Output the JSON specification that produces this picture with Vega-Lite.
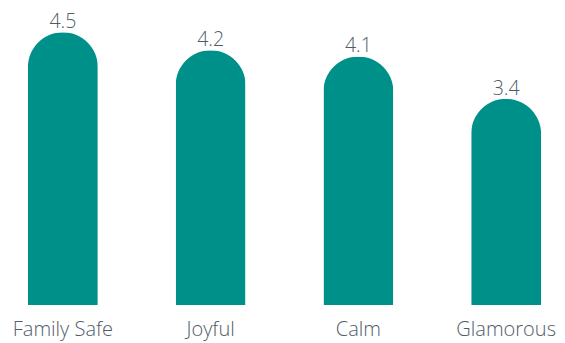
{
  "$schema": "https://vega.github.io/schema/vega-lite/v6.json",
  "width": 569,
  "height": 305,
  "autosize": {"type": "none"},
  "padding": {"top": 0, "left": 0, "right": 0, "bottom": 38},
  "background": "white",
  "data": {"values": [
    {"category": "Family Safe", "value": 4.5},
    {"category": "Joyful", "value": 4.2},
    {"category": "Calm", "value": 4.1},
    {"category": "Glamorous", "value": 3.4}
  ]},
  "encoding": {
    "x": {"field": "category", "type": "nominal", "sort": null,
      "scale": {"paddingInner": 0.527, "paddingOuter": 0.189},
      "axis": {"title": null, "domain": false, "ticks": false, "labelAngle": 0,
        "labelFont": "Open Sans", "labelFontSize": 20, "labelColor": "#4f5d68", "labelPadding": 14, "labelFontWeight": 300}},
    "y": {"field": "value", "type": "quantitative", "scale": {"domain": [0, 5.03]}, "axis": null}
  },
  "layer": [
    {"mark": {"type": "bar", "color": "#00908A", "cornerRadiusTopLeft": 35, "cornerRadiusTopRight": 35}},
    {"mark": {"type": "text", "baseline": "alphabetic", "dy": -4, "font": "Open Sans", "fontSize": 19.5, "fontWeight": 300, "color": "#4f5d68"},
      "encoding": {"text": {"field": "value", "type": "quantitative", "format": ".1f"}}}
  ],
  "config": {"view": {"stroke": null}}
}
